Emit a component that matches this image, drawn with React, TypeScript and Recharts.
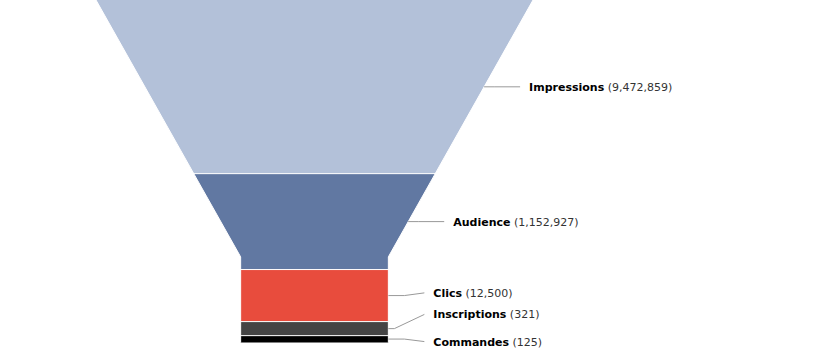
import React from 'react';
import { ComposedChart, Area, XAxis, YAxis, Scatter, ReferenceLine } from 'recharts';

// ---- data ----
const stages = ['Impressions', 'Audience', 'Clics', 'Inscriptions', 'Commandes'];
const stageValues = [9472859, 1152927, 12500, 321, 125];
// share of the funnel height taken by each slice (%)
const sliceShare = [50.7, 28.0, 15.2, 4.1, 2.0];
const stageColors = ['#b3c1d9', '#6178a2', '#e84c3d', '#444444', '#000000'];

// ---- funnel shape options (like a funnel series config) ----
const FUNNEL = { width: 100, neckWidth: 33.8, neckHeight: 25 };
const LABEL_SHIFT = [0, 0, -2.7, -14.2, 2.5];
const LABEL_BEND = [10, 10, 16, 6, 16];

const neckStart = 100 - FUNNEL.neckHeight;
const halfWidth = (pos: number) => {
  if (pos >= neckStart) return FUNNEL.neckWidth / 2;
  return FUNNEL.width / 2 - ((FUNNEL.width - FUNNEL.neckWidth) / 2) * (pos / neckStart);
};

const bounds: number[] = [0];
sliceShare.forEach((s, i) => bounds.push(bounds[i] + s));

const sliceData = stages.map((_, i) => {
  const start = bounds[i];
  const end = bounds[i + 1];
  const ps = [start];
  if (start < neckStart && end > neckStart) ps.push(neckStart);
  ps.push(end);
  return ps.map((pos) => ({ pos, edge: [-halfWidth(pos), halfWidth(pos)] }));
});

const labelAnchors = stages.map((name, i) => {
  const mid = (bounds[i] + bounds[i + 1]) / 2;
  return { name, value: stageValues[i], pos: mid, x: halfWidth(mid), idx: i };
});

const fmt = (v: number) => v.toLocaleString('en-US');

function FunnelLabel(props: any) {
  const { cx, cy, payload } = props;
  if (cx == null || cy == null) return null;
  const i = payload.idx;
  const ty = cy + LABEL_SHIFT[i];
  const bendX = cx + LABEL_BEND[i];
  const endX = cx + 36;
  return (
    <g>
      <polyline
        points={`${cx},${cy} ${bendX},${cy} ${endX},${ty}`}
        fill="none"
        stroke="#999999"
        strokeWidth={1}
      />
      <text x={cx + 45} y={ty + 4} fontFamily="DejaVu Sans, Verdana, sans-serif" fontSize={11}>
        <tspan fontWeight="bold" fill="#000000">{payload.name}</tspan>
        <tspan fill="#333333">{' (' + fmt(payload.value) + ')'}</tspan>
      </text>
    </g>
  );
}

export default function App() {
  return (
    <div style={{ position: 'absolute', left: 0, top: 0, width: 817, height: 360, background: '#fff' }}>
      <ComposedChart
        width={817}
        height={360}
        layout="vertical"
        margin={{ top: 0, left: 96, right: 284, bottom: 17.5 }}
      >
        <XAxis type="number" domain={[-50, 50]} hide />
        <YAxis type="number" dataKey="pos" domain={[0, 100]} hide />
        {sliceData.map((d, i) => (
          <Area
            key={stages[i]}
            data={d}
            dataKey="edge"
            type="linear"
            fill={stageColors[i]}
            fillOpacity={1}
            stroke="#ffffff"
            strokeWidth={1}
            dot={false}
            activeDot={false}
            isAnimationActive={false}
          />
        ))}
        {bounds.slice(1, -1).map((b) => (
          <ReferenceLine key={b} y={b} stroke="#ffffff" strokeWidth={1} />
        ))}
        <Scatter
          data={labelAnchors}
          dataKey="x"
          shape={(p: any) => <FunnelLabel {...p} />}
          isAnimationActive={false}
        />
      </ComposedChart>
    </div>
  );
}
